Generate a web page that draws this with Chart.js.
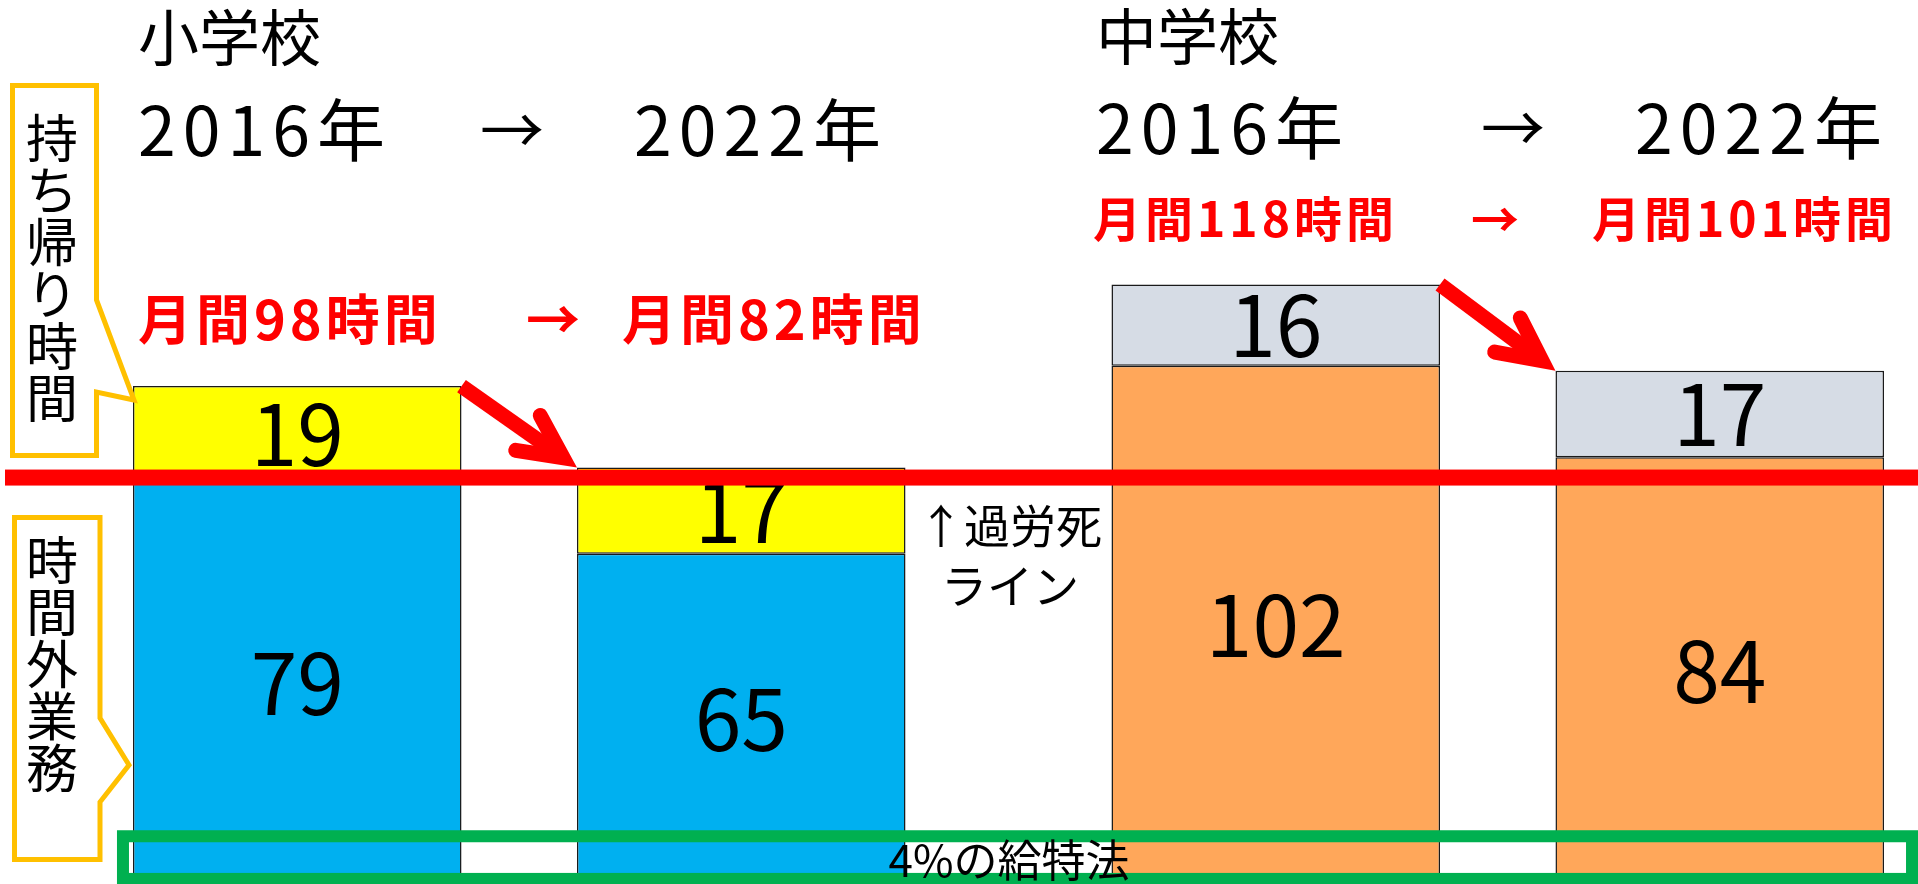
<!DOCTYPE html>
<html lang="ja">
<head>
<meta charset="utf-8">
<title>教員の月間時間外業務</title>
<script src="https://cdn.jsdelivr.net/npm/chart.js@4.4.1/dist/chart.umd.min.js"></script>
<style>
    html, body { margin: 0; padding: 0; overflow: hidden; background: #fff; }
    #wrap { position: relative; width: 1918px; height: 884px; overflow: hidden; }
    #chart { position: absolute; left: 0; top: 0; }
    .t { position: absolute; font-family: "Noto Sans CJK JP", sans-serif; line-height: 1; white-space: pre; color: #000; }
    .red { color: #ff0000; font-weight: 700; }
    .vert { width: 1em; white-space: normal; line-height: 52px; }
</style>
</head>
<body>
<div id="wrap">
    <canvas id="chart" width="2016" height="884"></canvas>
</div>
<script>
// 月間の時間外業務（時間） 2016年 → 2022年
const schools = ['小学校', '中学校'];
const years = ['2016年', '2022年'];
const overtime2016 = [79, 102];   // 時間外業務
const takeHome2016 = [19, 16];    // 持ち帰り時間
const overtime2022 = [65, 84];
const takeHome2022 = [17, 17];
const karoshiLine = 80;           // 過労死ライン
const kyutokuBox = [1, 9.4];      // 4%の給特法 の枠（下端・上端）

const wrap = document.getElementById('wrap');

function addText(text, left, top, size, cls, style) {
    const el = document.createElement('div');
    el.className = 't ' + (cls || '');
    el.textContent = text;
    el.style.left = left + 'px';
    el.style.top = top + 'px';
    el.style.fontSize = size + 'px';
    if (style) Object.assign(el.style, style);
    wrap.appendChild(el);
    return el;
}

function monthly(i, a, b) {
    return '月間' + (a[i] + b[i]) + '時間';
}

// headings
addText(schools[0], 138, 4, 61);
addText(schools[1], 1096, 3, 61);

addText(years[0], 138, 93, 68, '', { letterSpacing: '7px' });
addText('→', 480, 94, 64);
addText(years[1], 634, 93, 68, '', { letterSpacing: '7px' });
addText(years[0], 1096, 91, 68, '', { letterSpacing: '7px' });
addText('→', 1481, 92, 64);
addText(years[1], 1635, 91, 68, '', { letterSpacing: '7px' });

addText(monthly(0, overtime2016, takeHome2016), 138, 290, 54, 'red', { letterSpacing: '4px' });
addText('→', 526, 290, 54, 'red');
addText(monthly(0, overtime2022, takeHome2022), 622, 290, 54, 'red', { letterSpacing: '4px' });
addText(monthly(1, overtime2016, takeHome2016), 1093, 192, 48, 'red', { letterSpacing: '4px' });
addText('→', 1471, 192, 48, 'red');
addText(monthly(1, overtime2022, takeHome2022), 1592, 192, 48, 'red', { letterSpacing: '4px' });

// callout labels
addText('持ち帰り時間', 26, 110, 52, 'vert');
addText('時間外業務', 26, 532, 52, 'vert');

addText('↑過労死\nライン', 910, 493, 46, '', { width: '200px', textAlign: 'center', lineHeight: '60px' });
addText('4%の給特法', 859, 836, 44, '', { width: '300px', textAlign: 'center' });

function drawArrow(ctx, x1, y1, x2, y2) {
    const ang = Math.atan2(y2 - y1, x2 - x1);
    const w = 15, head = 48, spread = 0.46;
    const back = (w / 2) / Math.sin(spread);
    const tx = x2 - back * Math.cos(ang);
    const ty = y2 - back * Math.sin(ang);
    ctx.save();
    ctx.strokeStyle = '#ff0000';
    ctx.lineWidth = w;
    ctx.lineCap = 'butt';
    ctx.beginPath();
    ctx.moveTo(x1, y1);
    ctx.lineTo(tx - 4 * Math.cos(ang), ty - 4 * Math.sin(ang));
    ctx.stroke();
    ctx.lineCap = 'round';
    ctx.lineJoin = 'miter';
    ctx.beginPath();
    ctx.moveTo(tx - head * Math.cos(ang - spread), ty - head * Math.sin(ang - spread));
    ctx.lineTo(tx, ty);
    ctx.lineTo(tx - head * Math.cos(ang + spread), ty - head * Math.sin(ang + spread));
    ctx.stroke();
    ctx.restore();
}

const decorPlugin = {
    id: 'decor',
    afterDatasetsDraw(chart) {
        const ctx = chart.ctx;
        const yScale = chart.scales.y;

        // values inside each bar segment
        ctx.save();
        ctx.font = '84px "Noto Sans CJK JP"';
        ctx.fillStyle = '#000';
        ctx.textAlign = 'center';
        ctx.textBaseline = 'middle';
        chart.data.datasets.forEach((ds, di) => {
            chart.getDatasetMeta(di).data.forEach((bar, i) => {
                ctx.fillText(String(ds.data[i]), bar.x, (bar.y + bar.base) / 2);
            });
        });
        ctx.restore();

        // 過労死ライン
        const ly = yScale.getPixelForValue(karoshiLine);
        ctx.save();
        ctx.fillStyle = '#ff0000';
        ctx.fillRect(5, ly - 8, chart.width, 16);
        ctx.restore();

        // arrows from 2016 top to 2022 top
        const top16 = chart.getDatasetMeta(1).data;
        const top22 = chart.getDatasetMeta(3).data;
        for (let i = 0; i < top16.length; i++) {
            const a = top16[i], b = top22[i];
            drawArrow(ctx, a.x + a.width / 2, a.y, b.x - b.width / 2, b.y);
        }

        // callout frames
        ctx.save();
        ctx.strokeStyle = '#FFC000';
        ctx.lineWidth = 5;
        ctx.lineJoin = 'miter';
        ctx.beginPath();
        ctx.moveTo(12.5, 85.5);
        ctx.lineTo(96.5, 85.5);
        ctx.lineTo(96.5, 300);
        ctx.lineTo(134, 400);
        ctx.lineTo(96.5, 392);
        ctx.lineTo(96.5, 455.5);
        ctx.lineTo(12.5, 455.5);
        ctx.closePath();
        ctx.stroke();
        ctx.beginPath();
        ctx.moveTo(14.5, 517.5);
        ctx.lineTo(100, 517.5);
        ctx.lineTo(100, 718);
        ctx.lineTo(129, 765);
        ctx.lineTo(100, 802);
        ctx.lineTo(100, 859.5);
        ctx.lineTo(14.5, 859.5);
        ctx.closePath();
        ctx.stroke();
        ctx.restore();

        // 4%の給特法 frame
        const first = chart.getDatasetMeta(0).data[0];
        const last = chart.getDatasetMeta(2).data[1];
        const gx1 = first.x - first.width / 2 - 10;
        const gx2 = last.x + last.width / 2 + 28;
        const gy1 = yScale.getPixelForValue(kyutokuBox[1]);
        const gy2 = yScale.getPixelForValue(kyutokuBox[0]);
        ctx.save();
        ctx.strokeStyle = '#00B050';
        ctx.lineWidth = 12;
        ctx.strokeRect(gx1, gy1, gx2 - gx1, gy2 - gy1);
        ctx.restore();
    }
};

new Chart(document.getElementById('chart'), {
    type: 'bar',
    data: {
        labels: schools,
        datasets: [
            { label: '時間外業務 ' + years[0], data: overtime2016, stack: years[0], backgroundColor: ['#00B0F0', '#FFA75A'] },
            { label: '持ち帰り時間 ' + years[0], data: takeHome2016, stack: years[0], backgroundColor: ['#FFFF00', '#D6DCE5'] },
            { label: '時間外業務 ' + years[1], data: overtime2022, stack: years[1], backgroundColor: ['#00B0F0', '#FFA75A'] },
            { label: '持ち帰り時間 ' + years[1], data: takeHome2022, stack: years[1], backgroundColor: ['#FFFF00', '#D6DCE5'] }
        ]
    },
    options: {
        responsive: false,
        animation: false,
        devicePixelRatio: 1,
        layout: { padding: { left: 30, right: 29, top: 0, bottom: 0 } },
        datasets: {
            bar: {
                categoryPercentage: 0.9075,
                barPercentage: 0.74,
                borderColor: '#1a1a1a',
                borderWidth: 1.5,
                borderSkipped: false
            }
        },
        plugins: {
            legend: { display: false },
            tooltip: { enabled: false }
        },
        scales: {
            x: { display: false, stacked: true },
            y: { display: false, stacked: true, min: 0, max: 174 }
        }
    },
    plugins: [decorPlugin]
});
</script>
</body>
</html>
